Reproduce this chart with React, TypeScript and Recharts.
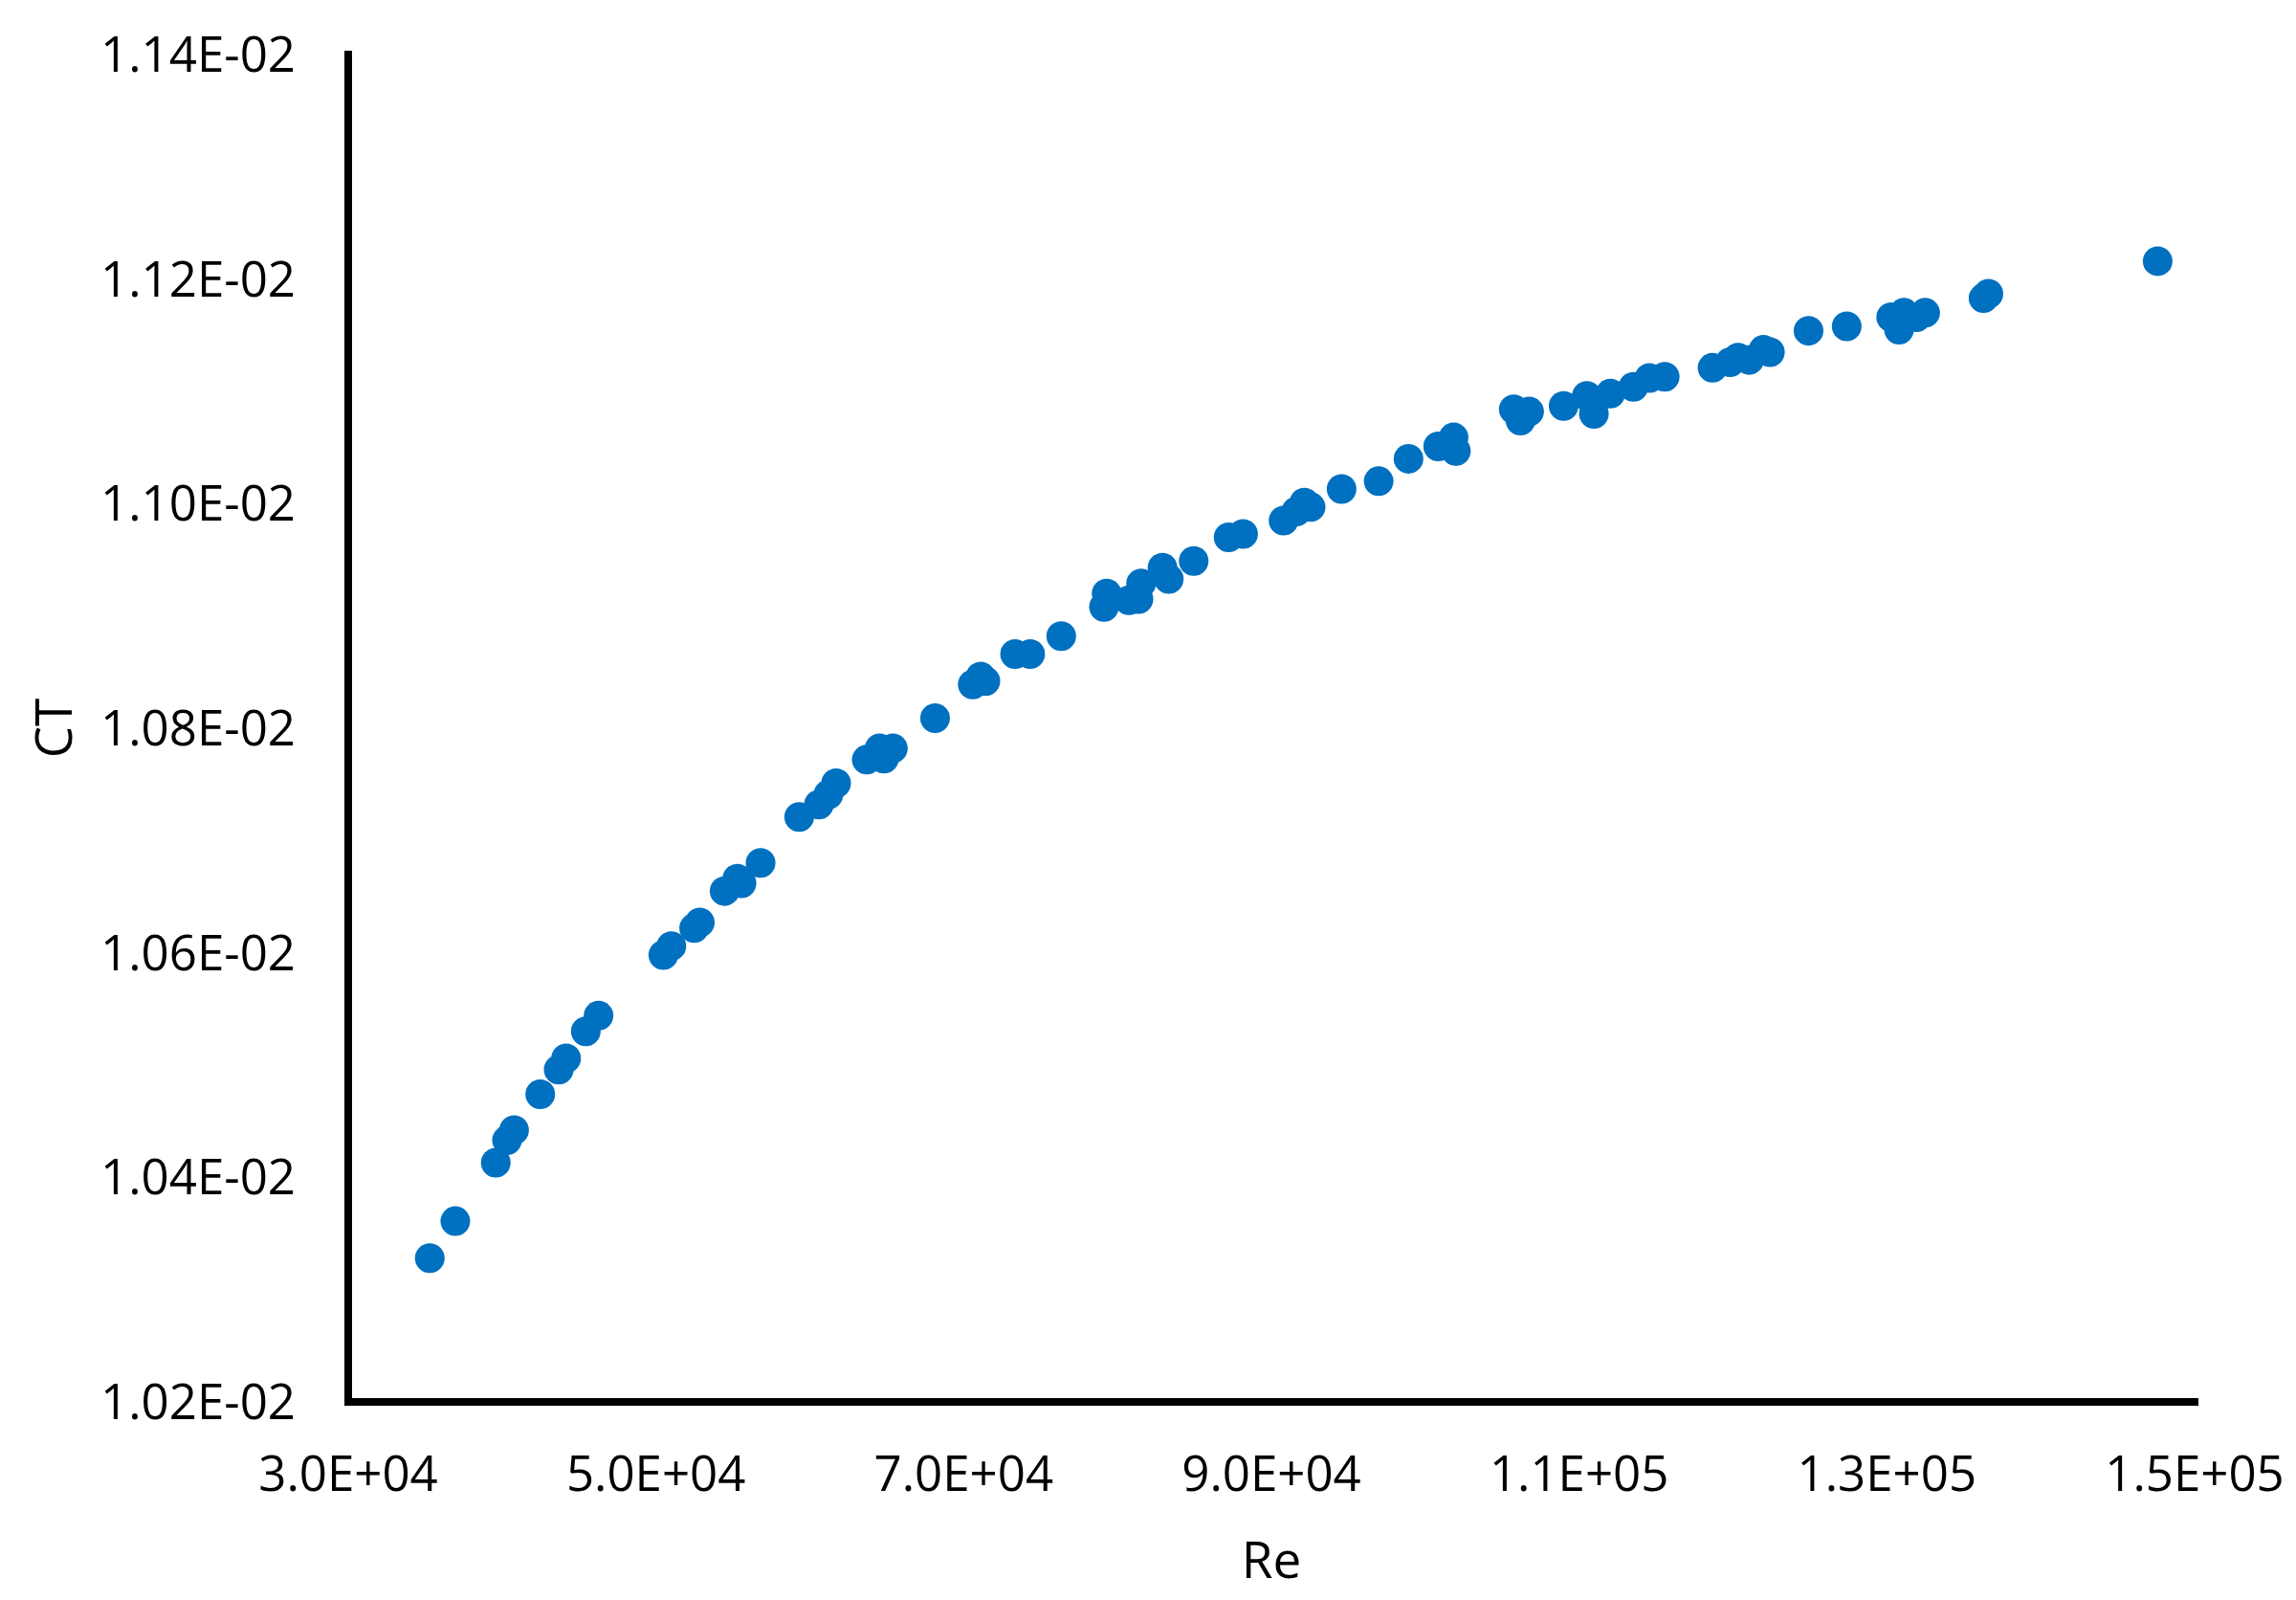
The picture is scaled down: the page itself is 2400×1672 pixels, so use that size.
import React from 'react';
import { ScatterChart, Scatter, XAxis, YAxis, Label } from 'recharts';

const reValues = [
  35300, 36960, 39590, 40320, 40780, 42480, 43680, 44160, 45440, 46270,
  50480, 51000, 52480, 52850, 54460, 55290, 55560, 56800, 59310, 60590,
  61210, 61710, 63700, 64530, 64820, 65400, 68140, 70590, 71100, 71410,
  73340, 74320, 76340, 79120, 79290, 80740, 81360, 81530, 82920, 83330,
  84950, 87220, 88160, 90790, 91620, 92140, 92550, 94560, 96970, 98910,
  100840, 101840, 101990, 105750, 106190, 106750, 108990, 110500, 110960, 112030,
  113530, 114570, 115560, 118670, 119810, 120330, 121050, 121980, 122400, 124910,
  127390, 130280, 131110, 130790, 131910, 132490, 136280, 136600, 147600,
];

const ctValues = [
  0.010328, 0.010361, 0.010413, 0.010433, 0.010442, 0.010474, 0.010496, 0.010506, 0.01053, 0.010544,
  0.010598, 0.010606, 0.010622, 0.010627, 0.010655, 0.010666, 0.010662, 0.01068, 0.010721, 0.010732,
  0.010741, 0.010751, 0.010772, 0.010782, 0.010773, 0.010782, 0.010809, 0.010839, 0.010846, 0.010842,
  0.010866, 0.010866, 0.010882, 0.010908, 0.01092, 0.010914, 0.010915, 0.010929, 0.010943, 0.010933,
  0.010949, 0.01097, 0.010973, 0.010985, 0.010993, 0.011001, 0.010997, 0.011013, 0.01102, 0.01104,
  0.011051, 0.011059, 0.011047, 0.011084, 0.011074, 0.011082, 0.011087, 0.011096, 0.01108, 0.011098,
  0.011104, 0.011112, 0.011113, 0.011121, 0.011126, 0.01113, 0.011128, 0.011137, 0.011135, 0.011154,
  0.011158, 0.011166, 0.01117, 0.011155, 0.011166, 0.01117, 0.011183, 0.011187, 0.011216,
];

const xTicks = [30000, 50000, 70000, 90000, 110000, 130000, 150000];
const xTickLabels = ['3.0E+04', '5.0E+04', '7.0E+04', '9.0E+04', '1.1E+05', '1.3E+05', '1.5E+05'];
const yTicks = [0.0102, 0.0104, 0.0106, 0.0108, 0.011, 0.0112, 0.0114];
const yTickLabels = ['1.02E-02', '1.04E-02', '1.06E-02', '1.08E-02', '1.10E-02', '1.12E-02', '1.14E-02'];

const xTitle = 'Re';
const yTitle = 'CT';

const data = reValues.map((re, i) => ({ re, ct: ctValues[i] }));

const FONT = '"Open Sans", sans-serif';
const BLUE = '#0070C0';

const fmtX = (v: number) => {
  const i = xTicks.findIndex((t) => Math.abs(t - v) < 1);
  return i >= 0 ? xTickLabels[i] : String(v);
};
const fmtY = (v: number) => {
  const i = yTicks.findIndex((t) => Math.abs(t - v) < 1e-9);
  return i >= 0 ? yTickLabels[i] : String(v);
};

const Dot = (props: any) => {
  const { cx, cy } = props;
  if (cx == null || cy == null) return null;
  return <circle cx={cx} cy={cy} r={15.5} fill={BLUE} />;
};

export default function App() {
  return (
    <div style={{ position: 'absolute', left: 0, top: 0, width: 2400, height: 1672, background: '#fff' }}>
      <ScatterChart
        width={2400}
        height={1672}
        margin={{ top: 57, right: 106, bottom: 87, left: 0 }}
      >
        <XAxis
          type="number"
          dataKey="re"
          domain={[30000, 150000]}
          ticks={xTicks}
          tickFormatter={fmtX}
          allowDataOverflow
          height={120}
          axisLine={{ stroke: '#000', strokeWidth: 8, strokeLinecap: 'square' }}
          tickLine={false}
          tickSize={6}
          tickMargin={51}
          interval={0}
          tick={{ fill: '#000', fontSize: 51, fontFamily: FONT }}
        >
          <Label
            content={(p: any) => {
              const vb = p.viewBox || {};
              return (
                <text
                  x={vb.x + vb.width / 2}
                  y={vb.y + 184}
                  textAnchor="middle"
                  fill="#000"
                  fontSize={53}
                  fontFamily={FONT}
                >
                  {xTitle}
                </text>
              );
            }}
          />
        </XAxis>
        <YAxis
          type="number"
          dataKey="ct"
          domain={[0.0102, 0.0114]}
          ticks={yTicks}
          tickFormatter={fmtY}
          allowDataOverflow
          width={364}
          axisLine={{ stroke: '#000', strokeWidth: 8, strokeLinecap: 'square' }}
          tickLine={false}
          tickSize={6}
          tickMargin={49}
          interval={0}
          tick={{ fill: '#000', fontSize: 51, fontFamily: FONT }}
        >
          <Label
            content={(p: any) => {
              const vb = p.viewBox || {};
              const cx = vb.x + 54;
              const cy = vb.y + vb.height / 2;
              return (
                <text
                  x={cx}
                  y={cy}
                  transform={`rotate(-90 ${cx} ${cy})`}
                  textAnchor="middle"
                  dominantBaseline="central"
                  fill="#000"
                  fontSize={53}
                  fontFamily={FONT}
                >
                  {yTitle}
                </text>
              );
            }}
          />
        </YAxis>
        <Scatter data={data} fill={BLUE} shape={Dot} isAnimationActive={false} />
      </ScatterChart>
    </div>
  );
}
